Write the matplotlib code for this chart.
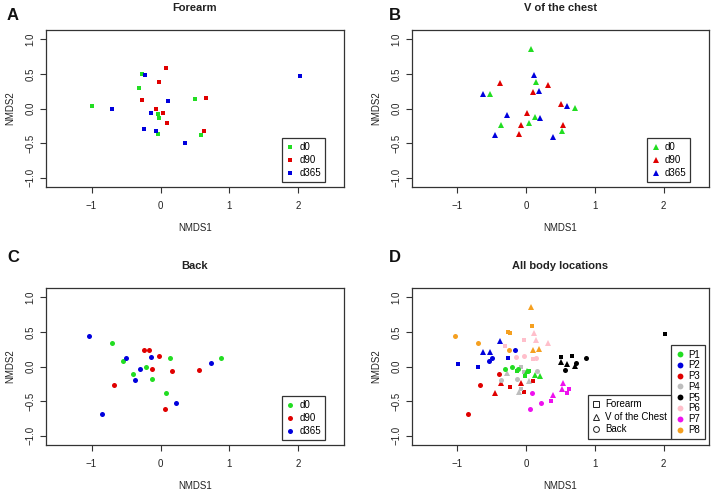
import matplotlib
matplotlib.use("Agg")
import matplotlib.pyplot as plt
from matplotlib.lines import Line2D

plt.rcParams['font.family'] = ['Liberation Sans', 'DejaVu Sans']

days = ["d0", "d90", "d365"]
participants = ["P1", "P2", "P3", "P4", "P5", "P6", "P7", "P8"]

# values ordered P1..P8 for each day (d0, d90, d365)
forearm_x = [[-0.015, -0.995, -0.03, -0.03, 0.50, -0.31, 0.59, -0.27],
             [0.043, -0.27, 0.097, -0.068, 0.66, -0.024, 0.63, 0.08],
             [-0.14, -0.705, -0.237, -0.072, 2.02, 0.106, 0.362, -0.23]]
forearm_y = [[-0.14, 0.043, -0.37, -0.077, 0.135, 0.29, -0.377, 0.50],
             [-0.058, 0.116, -0.217, -0.005, 0.145, 0.377, -0.32, 0.585],
             [-0.068, -0.01, -0.29, -0.319, 0.473, 0.106, -0.502, 0.488]]

chest_x = [[0.13, -0.53, -0.372, 0.048, 0.705, 0.15, 0.527, 0.068],
           [0.019, -0.38, -0.072, -0.106, 0.512, 0.319, 0.531, 0.106],
           [0.208, -0.623, -0.459, -0.275, 0.599, 0.121, 0.391, 0.188]]
chest_y = [[-0.116, 0.203, -0.24, -0.203, 0.005, 0.377, -0.333, 0.855],
           [-0.058, 0.367, -0.24, -0.372, 0.058, 0.343, -0.237, 0.232],
           [-0.14, 0.217, -0.391, -0.101, 0.034, 0.488, -0.406, 0.256]]

back_x = [[-0.208, -0.54, -0.40, -0.126, 0.874, 0.14, 0.082, -0.696],
          [-0.12, -0.16, -0.676, 0.16, 0.56, -0.029, 0.058, -0.246],
          [-0.304, -0.498, -0.845, -0.372, 0.73, -0.145, 0.222, -1.04]]
back_y = [[0.0, 0.077, -0.106, -0.188, 0.116, 0.116, -0.377, 0.343],
          [-0.034, 0.232, -0.266, -0.063, -0.053, 0.15, -0.613, 0.246],
          [-0.034, 0.116, -0.691, -0.193, 0.048, 0.135, -0.531, 0.44]]

x_ticks = [-1, 0, 1, 2]
y_ticks = [-1.0, -0.5, 0.0, 0.5, 1.0]
y_tick_labels = ["\u22121.0", "\u22120.5", "0.0", "0.5", "1.0"]
x_tick_labels = ["\u22121", "0", "1", "2"]

day_colors = ["#22dd22", "#e00000", "#0000dd"]
pid_colors = ["#22dd22", "#0000dd", "#e00000", "#bdbdbd", "#000000",
              "#ffbfcb", "#ee11ee", "#f5a020"]

loc_names = ["Forearm", "V of the Chest", "Back"]
loc_markers = ["s", "^", "o"]
loc_msize = [3.2, 4.3, 3.6]

W, H = 714, 490
fig = plt.figure(figsize=(W / 100, H / 100), dpi=100)

def ax_at(x0, y0, x1, y1):
    return fig.add_axes([x0 / W, 1 - y1 / H, (x1 - x0) / W, (y1 - y0) / H])

axA = ax_at(46, 30, 344, 187)
axB = ax_at(412, 30, 709, 187)
axC = ax_at(46, 288, 344, 445)
axD = ax_at(412, 288, 709, 445)

txtc = "#222222"
FS = 7

def style(ax, title):
    ax.set_xlim(-1.66, 2.66)
    ax.set_ylim(-1.137, 1.137)
    ax.set_xticks(x_ticks)
    ax.set_xticklabels(x_tick_labels)
    ax.set_yticks(y_ticks)
    ax.set_yticklabels(y_tick_labels, rotation=90, va="center")
    ax.tick_params(direction="out", length=4, width=0.8, colors="#333333",
                   labelsize=FS, labelcolor=txtc)
    ax.tick_params(axis="x", pad=6)
    ax.tick_params(axis="y", pad=3.5)
    for s in ax.spines.values():
        s.set_color("#333333")
        s.set_linewidth(0.9)
    ax.set_xlabel("NMDS1", fontsize=FS, color=txtc, labelpad=9)
    ax.set_ylabel("NMDS2", fontsize=FS, color=txtc, labelpad=7.5)
    ax.set_title(title, fontsize=8, fontweight="bold", color=txtc, pad=14)

def make_legend(ax, handles, anchor, spacing):
    leg = ax.legend(handles=handles, loc="lower right", bbox_to_anchor=anchor,
                    fontsize=FS, frameon=True, fancybox=False,
                    edgecolor="#333333", framealpha=1, borderpad=0.45,
                    labelspacing=spacing, handlelength=0.8,
                    handletextpad=0.5, borderaxespad=0)
    leg.get_frame().set_linewidth(0.9)
    return leg

def day_panel(ax, xs, ys, marker, ms, title):
    handles = []
    for d in range(3):
        h, = ax.plot(xs[d], ys[d], linestyle="none", marker=marker,
                     markersize=ms, color=day_colors[d], markeredgewidth=0,
                     label=days[d])
        handles.append(h)
    style(ax, title)
    make_legend(ax, handles, (0.937, 0.03), 0.3)

day_panel(axA, forearm_x, forearm_y, "s", loc_msize[0], "Forearm")
day_panel(axB, chest_x, chest_y, "^", loc_msize[1], "V of the chest")
day_panel(axC, back_x, back_y, "o", loc_msize[2], "Back")

# panel D: all locations coloured by participant
all_x = [forearm_x, chest_x, back_x]
all_y = [forearm_y, chest_y, back_y]
for li in range(3):
    for d in range(3):
        for p in range(8):
            axD.plot([all_x[li][d][p]], [all_y[li][d][p]], linestyle="none",
                     marker=loc_markers[li], markersize=loc_msize[li],
                     color=pid_colors[p], markeredgewidth=0)
style(axD, "All body locations")

p_handles = [Line2D([], [], linestyle="none", marker="o", markersize=4.2,
                    color=pid_colors[p], markeredgewidth=0, label=participants[p])
             for p in range(8)]
legP = make_legend(axD, p_handles, (0.985, 0.036), 0.08)
axD.add_artist(legP)

l_handles = [Line2D([], [], linestyle="none", marker=loc_markers[i],
                    markersize=[3.8, 4.8, 4.2][i], markerfacecolor="none",
                    markeredgecolor="#222222", markeredgewidth=0.7,
                    label=loc_names[i]) for i in range(3)]
make_legend(axD, l_handles, (0.873, 0.04), 0.25)

for letter, (x, y) in zip("ABCD", [(7, 15), (389, 15), (7, 258), (389, 258)]):
    fig.text(x / W, 1 - y / H, letter, fontsize=12, fontweight="bold",
             color="#111111", va="center", ha="left")

fig.savefig("out.png", dpi=100)
